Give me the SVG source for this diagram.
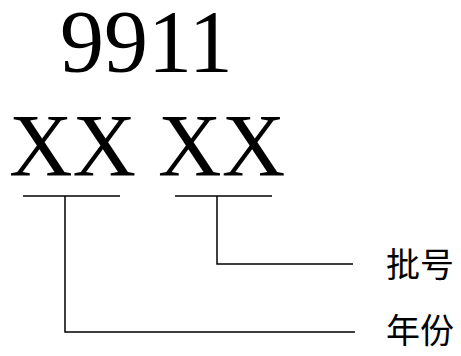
<svg xmlns="http://www.w3.org/2000/svg" width="461" height="356" viewBox="0 0 461 356">
<style>
.big{font-family:"Liberation Serif","Times New Roman",serif;font-size:88px;fill:#000}
.lbl{font-family:"Noto Sans CJK SC",sans-serif;font-size:34px;fill:#000}
.ln{stroke:#000;stroke-width:1.5;fill:none}
</style>
<rect width="461" height="356" fill="#fff"/>
<g id="code-top"><text class="big" x="60" y="71">9911</text></g>
<g id="code-xx"><text class="big" x="9" y="175">XX XX</text></g>
<g id="label-batch"><text class="lbl" x="386" y="277">批号</text></g>
<g id="label-year"><text class="lbl" x="386" y="343">年份</text></g>
<g id="connectors">
<line class="ln" x1="23" y1="196" x2="120" y2="196"/>
<line class="ln" x1="175" y1="196" x2="272" y2="196"/>
<polyline class="ln" points="65,196 65,332 355,332"/>
<polyline class="ln" points="217,196 217,264 353,264"/>
</g>
</svg>
